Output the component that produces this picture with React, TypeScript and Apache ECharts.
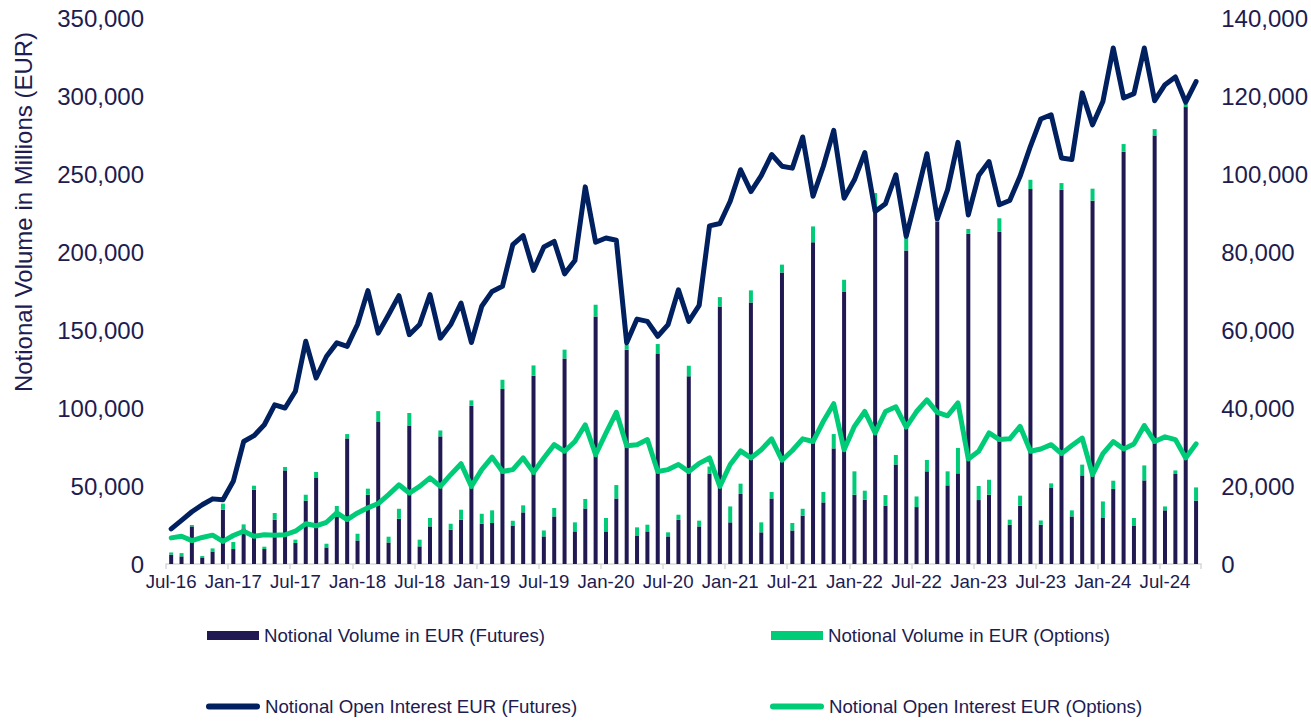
import React, { useEffect, useRef } from "react";
import * as echarts from "echarts";

const categories = [
  "Jul-16","Aug-16","Sep-16","Oct-16","Nov-16","Dec-16",
  "Jan-17","Feb-17","Mar-17","Apr-17","May-17","Jun-17","Jul-17","Aug-17","Sep-17","Oct-17","Nov-17","Dec-17",
  "Jan-18","Feb-18","Mar-18","Apr-18","May-18","Jun-18","Jul-18","Aug-18","Sep-18","Oct-18","Nov-18","Dec-18",
  "Jan-19","Feb-19","Mar-19","Apr-19","May-19","Jun-19","Jul-19","Aug-19","Sep-19","Oct-19","Nov-19","Dec-19",
  "Jan-20","Feb-20","Mar-20","Apr-20","May-20","Jun-20","Jul-20","Aug-20","Sep-20","Oct-20","Nov-20","Dec-20",
  "Jan-21","Feb-21","Mar-21","Apr-21","May-21","Jun-21","Jul-21","Aug-21","Sep-21","Oct-21","Nov-21","Dec-21",
  "Jan-22","Feb-22","Mar-22","Apr-22","May-22","Jun-22","Jul-22","Aug-22","Sep-22","Oct-22","Nov-22","Dec-22",
  "Jan-23","Feb-23","Mar-23","Apr-23","May-23","Jun-23","Jul-23","Aug-23","Sep-23","Oct-23","Nov-23","Dec-23",
  "Jan-24","Feb-24","Mar-24","Apr-24","May-24","Jun-24","Jul-24","Aug-24","Sep-24","Oct-24",
];

const volumeFutures = [
  6000, 4900, 24100, 4200, 8000, 34800,
  9600, 22800, 47600, 9600, 28400, 60000, 13500, 40600, 55500, 10600, 33500, 80500,
  15100, 44400, 91000, 13800, 29000, 88800, 11300, 24100, 81800, 22000, 28400, 101500,
  25800, 26300, 112200, 24600, 33100, 120700, 17700, 30500, 131800, 20900, 35600, 158700,
  20900, 42000, 137400, 18300, 20900, 134600, 17700, 28400, 120300, 24100, 58000, 165100,
  26700, 44900, 167700, 20300, 42000, 186900, 21500, 31000, 206200, 39500, 74100, 174700,
  44400, 41200, 227100, 37400, 63800, 201000, 36500, 59400, 219600, 50400, 58100, 211700,
  41000, 44400, 213000, 25200, 37400, 240400, 25200, 48700, 239900, 30500, 56800, 232900,
  29500, 48100, 264300, 24700, 53600, 274600, 34400, 57700, 292900, 40600,
];

const volumeOptions = [
  1400, 2100, 900, 900, 2000, 3900,
  4500, 2600, 2600, 1500, 4300, 2200, 2100, 3800, 3500, 2400, 3700, 2800,
  4300, 3900, 7000, 3700, 6400, 8000, 4300, 5400, 3800, 3800, 6400, 3400,
  6400, 8100, 5900, 3200, 4500, 6600, 3800, 5400, 5600, 5800, 6100, 7500,
  8600, 8600, 3200, 5200, 4300, 6400, 2600, 3200, 6800, 3700, 4500, 6000,
  10200, 6600, 7700, 6400, 4200, 5000, 4800, 4400, 10200, 6700, 9200, 7500,
  15000, 5800, 10700, 6800, 6100, 8000, 6800, 7300, 4000, 9000, 16300, 3100,
  9000, 9600, 8600, 3200, 6400, 5900, 2700, 3000, 4300, 3900, 6900, 7700,
  10600, 5300, 4900, 4800, 9600, 4200, 2500, 2300, 2000, 8500,
];

const openInterestFutures = [
  9000, 11200, 13400, 15200, 16700, 16500,
  21200, 31400, 32900, 35700, 40800, 40000, 44300, 57100, 47700, 53200, 56700, 55800,
  61400, 70100, 59200, 63900, 68800, 58800, 61400, 69100, 57900, 61400, 66900, 56800,
  66100, 69900, 71200, 81900, 84200, 75300, 81300, 82700, 74400, 77800, 96700, 82500,
  83600, 83000, 56700, 62800, 62200, 58400, 61400, 70300, 62200, 66300, 86700, 87300,
  93000, 101100, 95500, 99600, 105000, 102000, 101500, 109500, 94300, 102000, 111200, 93800,
  98500, 105500, 90400, 92400, 99800, 84000, 94300, 105200, 88500, 96000, 108100, 89500,
  99600, 103200, 92100, 93200, 99400, 107100, 114100, 115200, 104100, 103700, 120800, 112600,
  118600, 132300, 119500, 120600, 132300, 118800, 122900, 124900, 118400, 123700,
];

const openInterestOptions = [
  6700, 7100, 6000, 6800, 7400, 5800,
  7300, 8400, 7100, 7500, 7400, 7500, 8400, 10300, 9800, 10700, 13100, 11400,
  13100, 14400, 15500, 17800, 20300, 18200, 19900, 22100, 19900, 22900, 25700, 19900,
  24200, 27400, 23700, 24200, 27200, 23500, 27200, 30600, 28900, 31400, 35700, 28000,
  33600, 38900, 30300, 30600, 31900, 23700, 24200, 25500, 23700, 25800, 27200, 19900,
  25500, 29000, 27200, 29300, 32100, 26600, 29100, 32100, 31400, 36600, 41100, 29300,
  35300, 39100, 33600, 39100, 40300, 35100, 39100, 42100, 38900, 38000, 41300, 26900,
  28900, 33600, 31900, 32100, 35300, 28900, 29500, 30600, 28300, 30400, 32300, 22900,
  28300, 31400, 29500, 30800, 35500, 31400, 32600, 31900, 27200, 30800,
];

const seriesNames = [
  "Notional Volume in EUR (Futures)",
  "Notional Volume in EUR (Options)",
  "Notional Open Interest EUR (Futures)",
  "Notional Open Interest EUR (Options)",
];

const TEXT = "#201b50";
const FUT_BAR = "#211951";
const GREEN = "#00cc78";
const NAVY = "#002060";
const FONT = "'Liberation Sans', Arial, sans-serif";

const fmt = (v: number) => v.toLocaleString("en-US");

export default function App() {
  const ref = useRef<HTMLDivElement>(null);

  useEffect(() => {
    if (!ref.current) return;
    const chart = echarts.init(ref.current, undefined, { renderer: "svg" });
    const capsule =
      "path://M3,0 L51,0 A3,3 0 0 1 51,6 L3,6 A3,3 0 0 1 3,0 Z";
    const legendText = { color: TEXT, fontSize: 18.67, fontFamily: FONT };
    const legendBase = {
      orient: "horizontal",
      padding: 0,
      itemGap: 0,
      textStyle: legendText,
      selectedMode: false,
    };
    chart.setOption({
      animation: false,
      backgroundColor: "#ffffff",
      textStyle: { fontFamily: FONT },
      grid: { left: 166, right: 109, top: 18, bottom: 157, containLabel: false },
      legend: [
        { ...legendBase, left: 207, top: 626, itemWidth: 52, itemHeight: 9, data: [{ name: seriesNames[0], icon: "rect" }] },
        { ...legendBase, left: 771, top: 626, itemWidth: 52, itemHeight: 9, data: [{ name: seriesNames[1], icon: "rect" }] },
        { ...legendBase, left: 206, top: 697, itemWidth: 54, itemHeight: 6, data: [{ name: seriesNames[2], icon: capsule }] },
        { ...legendBase, left: 770, top: 697, itemWidth: 54, itemHeight: 6, data: [{ name: seriesNames[3], icon: capsule }] },
      ],
      graphic: [
        {
          type: "text",
          x: 23,
          y: 212,
          rotation: Math.PI / 2,
          style: {
            text: "Notional Volume in Millions (EUR)",
            fill: TEXT,
            font: `24px ${FONT}`,
            textAlign: "center",
            textVerticalAlign: "middle",
          },
        },
      ],
      xAxis: {
        type: "category",
        data: categories,
        boundaryGap: true,
        axisLine: { show: true, lineStyle: { color: "#d9d9d9", width: 1.5 } },
        axisTick: { show: true, interval: 5, length: 5, lineStyle: { color: "#d9d9d9", width: 1.5 } },
        axisLabel: { interval: 5, color: TEXT, fontSize: 18.67, fontFamily: FONT, margin: 8 },
        splitLine: { show: false },
      },
      yAxis: [
        {
          type: "value",
          min: 0,
          max: 350000,
          interval: 50000,
          axisLine: { show: false },
          axisTick: { show: false },
          splitLine: { show: false },
          axisLabel: { color: TEXT, fontSize: 24, fontFamily: FONT, margin: 22, formatter: fmt },
        },
        {
          type: "value",
          min: 0,
          max: 140000,
          interval: 20000,
          position: "right",
          axisLine: { show: false },
          axisTick: { show: false },
          splitLine: { show: false },
          axisLabel: { color: TEXT, fontSize: 24, fontFamily: FONT, margin: 20, formatter: fmt },
        },
      ],
      series: [
        {
          name: seriesNames[0],
          type: "bar",
          stack: "vol",
          barWidth: 4,
          itemStyle: { color: FUT_BAR },
          data: volumeFutures,
          z: 2,
        },
        {
          name: seriesNames[1],
          type: "bar",
          stack: "vol",
          barWidth: 4,
          itemStyle: { color: GREEN },
          data: volumeOptions,
          z: 2,
        },
        {
          name: seriesNames[2],
          type: "line",
          yAxisIndex: 1,
          data: openInterestFutures,
          symbol: "none",
          itemStyle: { color: NAVY },
          lineStyle: { color: NAVY, width: 5, join: "round", cap: "round" },
          z: 4,
        },
        {
          name: seriesNames[3],
          type: "line",
          yAxisIndex: 1,
          data: openInterestOptions,
          symbol: "none",
          itemStyle: { color: GREEN },
          lineStyle: { color: GREEN, width: 5, join: "round", cap: "round" },
          z: 3,
        },
      ],
    });
    return () => chart.dispose();
  }, []);

  return (
    <div
      ref={ref}
      style={{ position: "fixed", left: 0, top: 0, width: 1311, height: 721, background: "#fff" }}
    />
  );
}
